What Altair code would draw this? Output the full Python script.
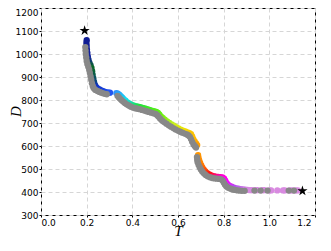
import altair as alt
import pandas as pd

# coloured series (T, D)
col_T = [0.200, 0.199, 0.200, 0.201, 0.203, 0.205, 0.208, 0.212, 0.217, 0.221, 0.224, 0.226,
         0.229, 0.232, 0.236, 0.241, 0.248, 0.256, 0.264, 0.272, 0.280, 0.288, 0.296, 0.302,
         0.330, 0.337, 0.344, 0.350, 0.356, 0.362, 0.370, 0.378, 0.386, 0.395, 0.405, 0.415,
         0.425, 0.435, 0.445, 0.455, 0.465, 0.475, 0.485, 0.495, 0.505, 0.512, 0.518, 0.525,
         0.533, 0.542, 0.552, 0.562, 0.572, 0.582, 0.592, 0.602, 0.612, 0.622, 0.632, 0.642,
         0.650, 0.657, 0.662, 0.667, 0.673, 0.679, 0.684,
         0.688, 0.690, 0.693, 0.697, 0.702, 0.707, 0.713, 0.720, 0.728, 0.737, 0.746, 0.756,
         0.766, 0.776, 0.786, 0.795, 0.802, 0.807, 0.812, 0.818, 0.826, 0.835, 0.845, 0.855,
         0.865, 0.875, 0.885, 0.895, 0.905,
         0.915, 0.925, 0.940, 0.948, 0.970, 0.978, 1.000, 1.008, 1.035, 1.060, 1.068, 1.090,
         1.100, 1.115, 1.125]
col_D = [1060, 1048, 1035, 1020, 1005, 990, 975, 962, 952, 940, 925, 910,
         895, 880, 867, 857, 850, 846, 842, 838, 835, 833, 832, 832,
         830, 828, 822, 816, 810, 804, 797, 790, 785, 780, 776, 773,
         771, 769, 766, 763, 760, 757, 754, 751, 748, 744, 737, 729,
         722, 714, 707, 700, 694, 688, 682, 676, 671, 667, 663, 659,
         656, 652, 642, 630, 620, 611, 604,
         560, 548, 537, 526, 516, 506, 497, 489, 482, 476, 472, 469,
         467, 466, 465, 463, 458, 449, 440, 433, 427, 423, 419, 416,
         414, 412, 411, 410, 409,
         408, 408, 408, 408, 408, 408, 407, 407, 407, 407, 407, 407,
         407, 407, 407]

# grey series (T, D)
grey_T = [0.194, 0.195, 0.196, 0.198, 0.200, 0.203, 0.207, 0.211, 0.214, 0.217, 0.220,
          0.223, 0.227, 0.231, 0.238, 0.247, 0.256, 0.264, 0.272, 0.280, 0.288,
          0.335, 0.341, 0.347, 0.353, 0.360, 0.367, 0.375, 0.384, 0.393, 0.402, 0.412,
          0.422, 0.432, 0.442, 0.452, 0.462, 0.472, 0.482, 0.492, 0.502, 0.509, 0.515,
          0.522, 0.530, 0.539, 0.549, 0.559, 0.569, 0.579, 0.589, 0.599, 0.609, 0.619,
          0.629, 0.639, 0.646, 0.652, 0.657, 0.662, 0.668, 0.674, 0.679,
          0.683, 0.684, 0.686, 0.690, 0.695, 0.700, 0.706, 0.713, 0.721, 0.730, 0.740,
          0.750, 0.760, 0.770, 0.780, 0.789, 0.796, 0.801, 0.806, 0.812, 0.820, 0.830,
          0.840, 0.850, 0.860, 0.870, 0.880, 0.892,
          0.935, 0.962, 0.992, 1.085, 1.108]
grey_D = [1030, 1015, 1000, 985, 970, 957, 945, 932, 918, 903, 888,
          873, 860, 851, 844, 839, 835, 832, 829, 827, 825,
          818, 811, 805, 799, 793, 787, 781, 776, 771, 767, 764,
          762, 760, 757, 754, 751, 748, 745, 742, 739, 734, 727,
          719, 711, 704, 697, 690, 684, 678, 672, 667, 662, 658,
          654, 650, 646, 640, 630, 618, 607, 599, 593,
          552, 540, 529, 518, 508, 498, 489, 481, 474, 468, 464,
          461, 459, 458, 457, 455, 449, 440, 431, 424, 418, 414,
          411, 409, 407, 406, 405, 405,
          406, 406, 406, 406, 406]

# start / end stars
star_T = [0.191, 1.145]
star_D = [1102, 405]

# colour stops along T
stop_T = [0.19, 0.205, 0.222, 0.24, 0.30, 0.33, 0.37, 0.43, 0.52, 0.58, 0.63, 0.67, 0.70,
          0.74, 0.78, 0.81, 0.85, 0.91, 1.2]
stop_c = ["#101880", "#1020a0", "#0a6a20", "#1030c0", "#2050f0", "#3090ff", "#10e0f0",
          "#20e040", "#60f010", "#c8f020", "#f0e000", "#ffb800", "#ff8000", "#ff1010",
          "#ff00a0", "#ff00ff", "#b050f0", "#d88ae0", "#d88ae0"]

df_col = pd.DataFrame({"T": col_T, "D": col_D})
df_grey = pd.DataFrame({"T": grey_T, "D": grey_D})
df_star = pd.DataFrame({"T": star_T, "D": star_D})

xs = alt.Scale(domain=[0, 1.2], nice=False, zero=False)
ys = alt.Scale(domain=[300, 1200], nice=False, zero=False)
xax = alt.Axis(values=[0, 0.2, 0.4, 0.6, 0.8, 1.0, 1.2], format=".1f", title="T",
               titleX=137, titleY=15.5, titleBaseline="middle", titleAlign="center",
               labelOffset={"condition": {"test": "datum.value > 1.1", "value": -4}, "value": 0})
yax = alt.Axis(values=list(range(300, 1201, 100)), format="d", title="D",
               titleX=-26, titleY=103, titleBaseline="middle", titleAlign="center",
               labelOffset={"condition": {"test": "datum.value > 1150", "value": 4}, "value": 0})

x = alt.X("T:Q", scale=xs, axis=xax)
y = alt.Y("D:Q", scale=ys, axis=yax)

colored = alt.Chart(df_col).mark_point(filled=True, size=40, opacity=1).encode(
    x=x, y=y,
    color=alt.Color("T:Q", scale=alt.Scale(domain=stop_T, range=stop_c, clamp=True,
                                           interpolate="rgb"), legend=None),
)
grey = alt.Chart(df_grey).mark_point(filled=True, size=40, opacity=1, color="#888888").encode(
    x=x, y=y)

star_path = ("M0,-1L0.2245,-0.309L0.951,-0.309L0.363,0.118L0.588,0.809L0,0.382"
             "L-0.588,0.809L-0.363,0.118L-0.951,-0.309L-0.2245,-0.309Z")
stars = alt.Chart(df_star).mark_point(filled=True, shape=star_path, size=115,
                                       color="black", opacity=1).encode(x=x, y=y)

chart = alt.layer(colored, grey, stars).properties(
    width=274, height=207,
    autosize=alt.AutoSizeParams(type="none"),
    padding={"left": 33, "top": 0, "right": 4, "bottom": 21},
).configure_view(stroke="black", strokeWidth=1).configure_axis(
    domain=False, grid=True, gridColor="#d6d6d6", gridDash=[4, 3], gridWidth=1,
    tickColor="black", tickSize=2, labelPadding=1,
    labelFont="DejaVu Sans", labelFontSize=9, labelColor="black",
    titleFont="Liberation Serif", titleFontStyle="italic", titleFontWeight="normal",
    titleFontSize=15, titleColor="black",
)

chart.save("out.html", embed_options={"renderer": "svg", "actions": False})
